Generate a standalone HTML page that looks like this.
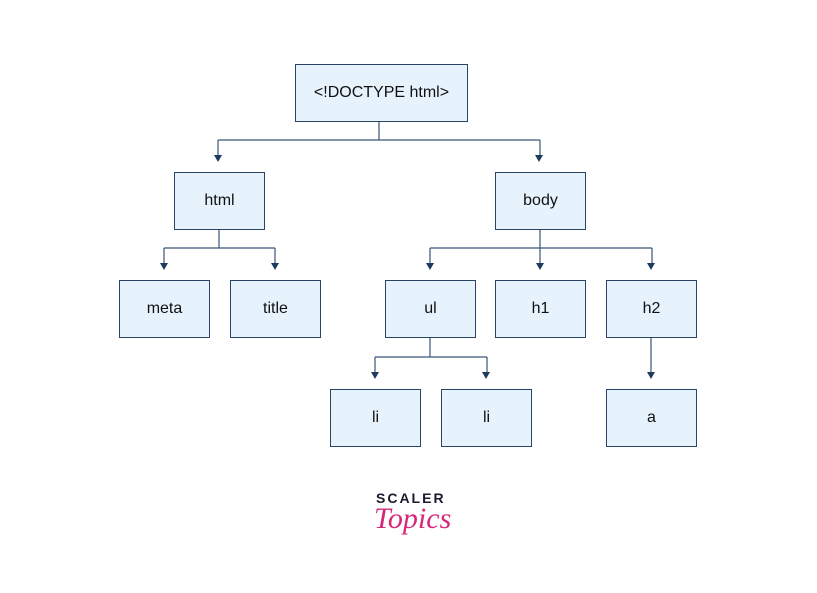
<!DOCTYPE html>
<html><head><style>
body{margin:0;background:#fff;width:817px;height:593px;overflow:hidden;position:relative;font-family:"Liberation Sans",sans-serif}
.b{position:absolute;box-sizing:border-box;background:#e6f3fd;border:1.5px solid #2a4466;display:flex;align-items:center;justify-content:center;font-size:16px;color:#111;height:58px;width:91px}
svg{position:absolute;left:0;top:0}
</style></head><body>
<svg width="817" height="593"><defs><marker id="a" markerWidth="8" markerHeight="8" refX="4" refY="7" orient="auto"><path d="M0,0 L8,0 L4,8Z" fill="#1f3a5f" transform="rotate(0)"/></marker></defs>
<g stroke="#3a5578" stroke-width="1.2" fill="none">
<path d="M379 121V140M218 140H540"/>
<path d="M219 229V248M164 248H275"/>
<path d="M540 229V248M430 248H652"/>
<path d="M430 337V357M375 357H487"/>
</g>
<g fill="#1f3a5f">
<path d="M214 155h8l-4 7z"/><path d="M535 155h8l-4 7z"/>
<path d="M160 263h8l-4 7z"/><path d="M271 263h8l-4 7z"/>
<path d="M426 263h8l-4 7z"/><path d="M536 263h8l-4 7z"/><path d="M647 263h8l-4 7z"/>
<path d="M371 372h8l-4 7z"/><path d="M482 372h8l-4 7z"/><path d="M647 372h8l-4 7z"/>
</g>
<g stroke="#3a5578" stroke-width="1.2">
<path d="M218 140V155M540 140V155M164 248V263M275 248V263M430 248V263M540 248V263M652 248V263M375 357V372M487 357V372M651 337V372"/>
</g>
</svg>
<div class="b" style="left:295px;top:64px;width:173px">&lt;!DOCTYPE html&gt;</div>
<div class="b" style="left:174px;top:172px">html</div>
<div class="b" style="left:495px;top:172px">body</div>
<div class="b" style="left:119px;top:280px">meta</div>
<div class="b" style="left:230px;top:280px">title</div>
<div class="b" style="left:385px;top:280px">ul</div>
<div class="b" style="left:495px;top:280px">h1</div>
<div class="b" style="left:606px;top:280px">h2</div>
<div class="b" style="left:330px;top:389px">li</div>
<div class="b" style="left:441px;top:389px">li</div>
<div class="b" style="left:606px;top:389px">a</div>
<div style="position:absolute;left:376px;top:490px;font-weight:bold;font-size:14px;letter-spacing:2px;color:#1a1a2e">SCALER</div>
<div style="position:absolute;left:374px;top:502px;font-family:'Liberation Serif',serif;font-style:italic;font-size:30px;color:#d6287a">Topics</div>
</body></html>
